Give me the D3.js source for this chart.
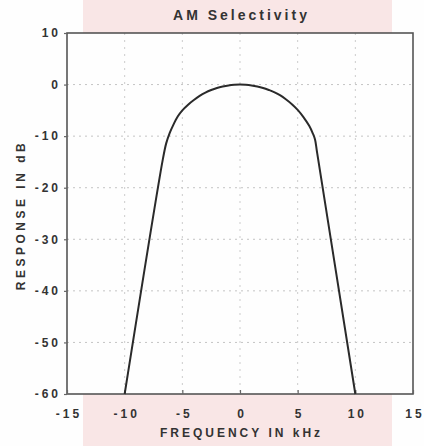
<!DOCTYPE html>
<html><head><meta charset="utf-8">
<script src="https://cdn.jsdelivr.net/npm/d3@7"></script>
<style>
html,body{margin:0;padding:0;background:#fefefe;}
svg{display:block;}
text{font-family:"Liberation Sans",Arial,sans-serif;font-weight:bold;fill:#333;}
</style></head>
<body><svg id="c" width="424" height="446"></svg>
<script>
const title = "AM Selectivity";
const xLabel = "FREQUENCY IN kHz";
const yLabel = "RESPONSE IN dB";
const xTicks = [-15, -10, -5, 0, 5, 10, 15];
const yTicks = [10, 0, -10, -20, -30, -40, -50, -60];
const xGrid = [-10, -5, 0, 5, 10];
const yGrid = [0, -10, -20, -30, -40, -50];
const freq = [-10, -6.7, -6.4, -6.1, -5.8, -5.4, -5.0, -4.5, -4.0, -3.5, -3.0, -2.5, -2.0, -1.5, -1.0, -0.5, 0,
              0.5, 1.0, 1.5, 2.0, 2.5, 3.0, 3.5, 4.0, 4.5, 5.0, 5.5, 6.0, 6.3, 6.5, 6.7, 10];
const respDb = [-60, -14.6, -11.4, -9.4, -7.9, -6.2, -5.0, -3.9, -3.0, -2.2, -1.56, -1.06, -0.66, -0.37, -0.16, -0.04, 0,
                -0.04, -0.16, -0.37, -0.66, -1.05, -1.5, -2.1, -2.9, -3.8, -4.9, -6.3, -8.0, -9.4, -10.6, -13.4, -60];

const svg = d3.select("#c");
const L = 67, R = 413, T = 33, B = 394;
const x = d3.scaleLinear().domain([-15, 15]).range([L, R]);
const y = d3.scaleLinear().domain([-60, 10]).range([B, T]);

// pink backdrop
svg.append("rect").attr("x", 83).attr("y", 0).attr("width", 309).attr("height", 446).attr("fill", "#f9e6e6");
// plot area
svg.append("rect").attr("x", L).attr("y", T).attr("width", R - L).attr("height", B - T).attr("fill", "#fefefe");

// grid
const g = svg.append("g");
g.selectAll(".gy").data(yGrid).join("line")
  .attr("x1", L).attr("x2", R).attr("y1", d => y(d)).attr("y2", d => y(d))
  .attr("stroke", "#c4c4c4").attr("stroke-width", 1).attr("stroke-dasharray", "2,4");
g.selectAll(".gx").data(xGrid).join("line")
  .attr("y1", T).attr("y2", B).attr("x1", d => x(d)).attr("x2", d => x(d))
  .attr("stroke", "#cccccc").attr("stroke-width", 1).attr("stroke-dasharray", "2,5");

// frame
svg.append("rect").attr("x", L).attr("y", T).attr("width", R - L).attr("height", B - T)
  .attr("fill", "none").attr("stroke", "#555").attr("stroke-width", 1.6);

// axes with inner ticks
const xa = svg.append("g").attr("transform", `translate(0,${B})`)
  .call(d3.axisBottom(x).tickValues(xTicks).tickSize(-4).tickPadding(15).tickFormat(d => String(d)));
const ya = svg.append("g").attr("transform", `translate(${L},0)`)
  .call(d3.axisLeft(y).tickValues(yTicks).tickSize(3).tickPadding(6).tickFormat(d => String(d)));
[xa, ya].forEach(a => {
  a.select(".domain").remove();
  a.selectAll(".tick line").attr("stroke", "#666").attr("stroke-width", 1.2);
  a.selectAll("text").attr("font-size", 12).attr("fill", "#3a3a3a")
   .attr("font-family", "'Liberation Sans',Arial,sans-serif").attr("font-weight", "bold")
   .style("letter-spacing", "3px");
});
xa.selectAll("text").attr("dx", "1.5px");
ya.selectAll("text").attr("dx", "3px");

// curve
const pts = freq.map((f, i) => [f, respDb[i]]);
svg.append("path").datum(pts)
  .attr("fill", "none").attr("stroke", "#2a2a2a").attr("stroke-width", 2)
  .attr("d", d3.line().x(d => x(d[0])).y(d => y(d[1])).curve(d3.curveCatmullRom.alpha(0.5)));

// titles
svg.append("text").attr("x", 240 + 1.5).attr("y", 20).attr("text-anchor", "middle")
  .attr("font-size", 14).style("letter-spacing", "3px").text(title);
svg.append("text").attr("x", 240 + 1.5).attr("y", 437).attr("text-anchor", "middle")
  .attr("font-size", 12).style("letter-spacing", "3px").text(xLabel);
svg.append("text").attr("transform", "translate(25,215) rotate(-90)").attr("text-anchor", "middle")
  .attr("font-size", 12).style("letter-spacing", "3.5px").text(yLabel);
</script></body></html>
